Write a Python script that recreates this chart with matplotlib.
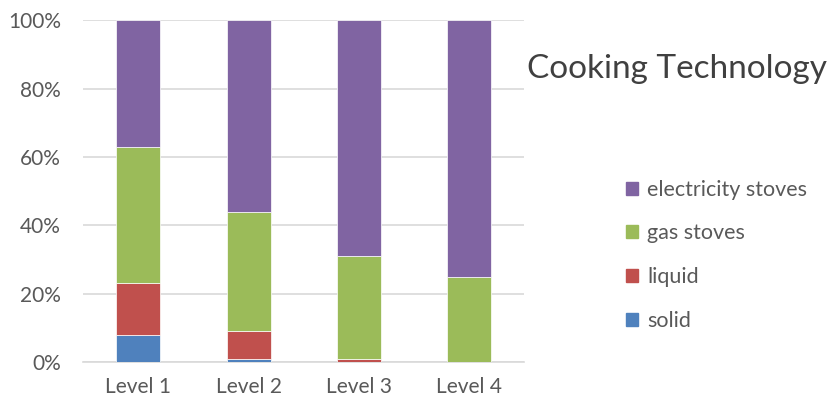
import numpy as np
import matplotlib.pyplot as plt
from matplotlib.patches import Patch

plt.rcParams['font.family'] = ['Lato', 'DejaVu Sans']

levels = ['Level 1', 'Level 2', 'Level 3', 'Level 4']
series = ['solid', 'liquid', 'gas stoves', 'electricity stoves']
solid = [8, 1, 0, 0]
liquid = [15, 8, 1, 0]
gas = [40, 35, 30, 25]
electricity = [37, 56, 69, 75]
colors = ['#4F81BD', '#C0504D', '#9BBB59', '#8064A2']

fig = plt.figure(figsize=(8.31, 4.04), dpi=100)
ax = fig.add_axes([0.1, 0.104, 0.531, 0.846])

x = np.arange(len(levels))
bottom = np.zeros(len(levels))
for vals, col in zip([solid, liquid, gas, electricity], colors):
    ax.bar(x, vals, 0.4, bottom=bottom, color=col, edgecolor='white',
           linewidth=0.5, zorder=3)
    bottom += np.array(vals)

ax.set_xlim(-0.5, 3.5)
ax.set_ylim(0, 100)
ax.set_yticks(np.arange(0, 101, 20))
ax.set_yticklabels([f'{v}%' for v in range(0, 101, 20)])
ax.set_xticks(x)
ax.set_xticklabels(levels)
ax.yaxis.grid(True, color='#D9D9D9', linewidth=1.2, zorder=0)
for s in ax.spines.values():
    s.set_visible(False)
ax.spines['bottom'].set_visible(True)
ax.spines['bottom'].set_color('#D9D9D9')
ax.spines['bottom'].set_linewidth(1.2)
ax.tick_params(length=0, labelsize=15, colors='#595959')
ax.tick_params(axis='x', pad=11)
ax.tick_params(axis='y', pad=16)

fig.text(0.634, 0.83, 'Cooking Technology', fontsize=24, color='#404040',
         va='center', ha='left')

handles = [Patch(color=c) for c in colors[::-1]]
fig.legend(handles, series[::-1], loc='upper left',
           bbox_to_anchor=(0.740, 0.582), frameon=False, fontsize=15.5,
           labelcolor='#595959', handlelength=0.55, handleheight=0.55,
           handletextpad=0.45, labelspacing=1.1, borderpad=0)

fig.savefig('out.png')
